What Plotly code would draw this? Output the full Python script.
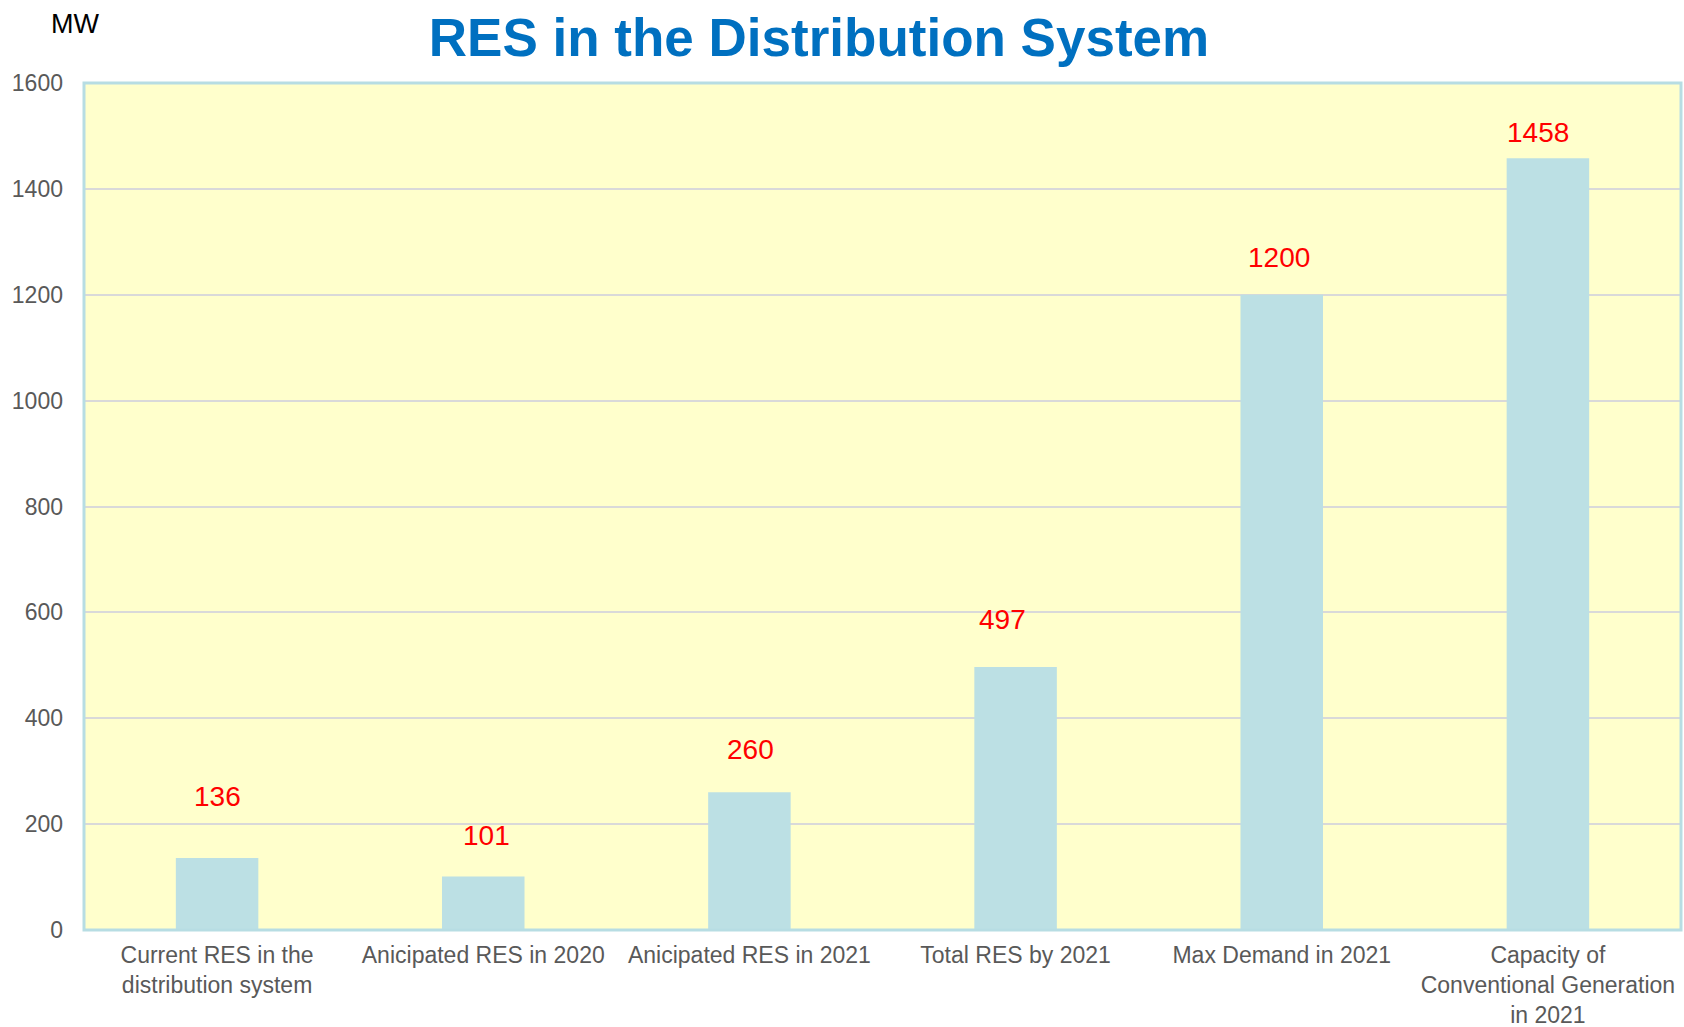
import plotly.graph_objects as go

categories = [
    "Current RES in the<br>distribution system",
    "Anicipated RES in 2020",
    "Anicipated RES in 2021",
    "Total RES by 2021",
    "Max Demand in 2021",
    "Capacity of<br>Conventional Generation<br>in 2021",
]
values_mw = [136, 101, 260, 497, 1200, 1458]
y_ticks = [0, 200, 400, 600, 800, 1000, 1200, 1400, 1600]

# label offsets (pixels) as placed in the original chart
label_yshift = [62, 41, 43, 47, 37, 26]
label_xshift = [0, 3, 1, -13, -3, -10]

W, H = 1684, 1027
ML, MR, MT, MB = 84, 3, 83, 97
FONT = "Liberation Sans, Arial, sans-serif"

fig = go.Figure()
fig.add_trace(go.Bar(
    x=categories, y=values_mw,
    marker=dict(color="#BCE0E4", line=dict(width=0)),
    width=0.31,
    hoverinfo="x+y",
))

for c, v, ys, xs in zip(categories, values_mw, label_yshift, label_xshift):
    fig.add_annotation(
        x=c, y=v, xref="x", yref="y", text=str(v), showarrow=False,
        yshift=ys, xshift=xs, yanchor="middle", xanchor="center",
        font=dict(family=FONT, size=28, color="#FF0000"),
    )

pw = W - ML - MR
ph = H - MT - MB
fig.add_annotation(
    x=(75 - ML) / pw, y=(H - 23.6 - MB) / ph, xref="paper", yref="paper",
    yanchor="middle", xanchor="center",
    text="MW", showarrow=False,
    font=dict(family=FONT, size=27, color="#000000"),
)

fig.add_shape(type="rect", xref="paper", yref="paper", x0=0, x1=1, y0=0, y1=1,
              line=dict(color="#B7DDE3", width=3), layer="above")

fig.update_layout(
    width=W, height=H,
    margin=dict(l=ML, r=MR, t=MT, b=MB, pad=0, autoexpand=False),
    paper_bgcolor="#FFFFFF",
    plot_bgcolor="#FFFFCC",
    showlegend=False,
    title=dict(
        text="<b>RES in the Distribution System</b>",
        x=819 / W, xref="container", xanchor="center",
        y=1 - 37.6 / H, yref="container", yanchor="middle",
        font=dict(family=FONT, size=53, color="#0070C0"),
    ),
    xaxis=dict(
        type="category", showgrid=False, showline=False, ticks="",
        tickfont=dict(family=FONT, size=23, color="#595959"),
        ticklabelstandoff=9, automargin=False,
    ),
    yaxis=dict(
        range=[0, 1600], tickvals=y_ticks, ticktext=[str(t) for t in y_ticks],
        showgrid=True, gridcolor="#D9D9D9", gridwidth=2,
        zeroline=False, showline=False, ticks="",
        tickfont=dict(family=FONT, size=23, color="#595959"),
        ticklabelstandoff=20, automargin=False,
    ),
)

fig.write_html(
    "out.html",
    config={"displayModeBar": False},
    post_script="document.body.style.margin='0';document.body.style.overflow='hidden';",
)
